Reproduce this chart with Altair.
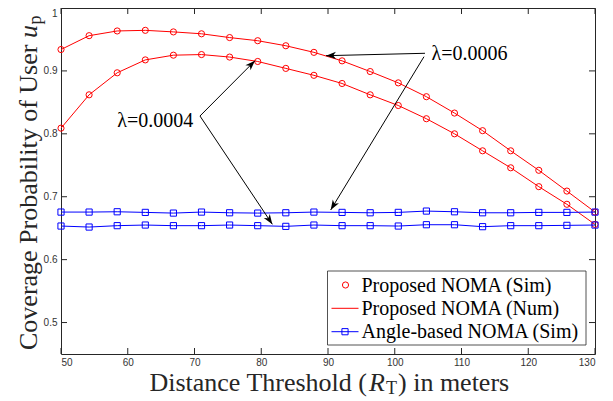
import math
import altair as alt
import pandas as pd

# ---------------- data ----------------
dist = [50, 54.21, 58.42, 62.63, 66.84, 71.05, 75.26, 79.47, 83.68, 87.89,
        92.11, 96.32, 100.53, 104.74, 108.95, 113.16, 117.37, 121.58, 125.79, 130]

prop_l6 = [0.934, 0.956, 0.9635, 0.9645, 0.962, 0.959, 0.953, 0.948, 0.940, 0.9295,
           0.916, 0.899, 0.881, 0.859, 0.833, 0.805, 0.773, 0.742, 0.709, 0.6756]
prop_l4 = [0.809, 0.862, 0.897, 0.9175, 0.925, 0.926, 0.922, 0.915, 0.904, 0.893,
           0.880, 0.862, 0.845, 0.824, 0.800, 0.773, 0.746, 0.716, 0.688, 0.656]
angle_l6 = [0.6756, 0.6756, 0.6761, 0.6751, 0.6740, 0.6756, 0.6745, 0.6740, 0.6745, 0.6756,
            0.6751, 0.6745, 0.6751, 0.6772, 0.6761, 0.6745, 0.6745, 0.6751, 0.6751, 0.6756]
angle_l4 = [0.6534, 0.6518, 0.6540, 0.6550, 0.6540, 0.6540, 0.6550, 0.6540, 0.6529, 0.6550,
            0.6540, 0.6540, 0.6534, 0.6555, 0.6555, 0.6524, 0.6540, 0.6540, 0.6545, 0.6550]

x_ticks = [50, 60, 70, 80, 90, 100, 110, 120, 130]
y_ticks = [0.5, 0.6, 0.7, 0.8, 0.9, 1.0]

legend_labels = ["Proposed NOMA (Sim)", "Proposed NOMA (Num)", "Angle-based NOMA (Sim)"]

lambda_labels = ["\u03bb=0.0004", "\u03bb=0.0006"]
lambda_x = [69.8, 105.5]
lambda_y = [0.8108, 0.9173]
lambda_align = ["right", "left"]

arrow_x1 = [70.82, 70.82, 104.53, 104.38]
arrow_y1 = [0.8283, 0.8283, 0.9280, 0.9226]
arrow_x2 = [79.06, 81.66, 89.70, 90.40]
arrow_y2 = [0.9162, 0.6562, 0.9242, 0.6789]

# ---------------- layout ----------------
W, H = 534, 346
XDOM = [50, 130]
YDOM = [0.45, 1.0]
px_per_x = W / (XDOM[1] - XDOM[0])
px_per_y = H / (YDOM[1] - YDOM[0])

SERIF = "Liberation Serif"
SANS = "Liberation Sans"
RED = "#ff0000"
BLUE = "#0000ff"
FRAME = "#262626"

xscale = alt.Scale(domain=XDOM, nice=False, zero=False)
yscale = alt.Scale(domain=YDOM, nice=False, zero=False)
xaxis = alt.Axis(values=x_ticks, title=None, ticks=False, domain=False, grid=False,
                 labelFont=SANS, labelFontSize=10, labelColor="#333333",
                 labelPadding=3, format="d")
yaxis = alt.Axis(values=y_ticks, title=None, ticks=False, domain=False, grid=False,
                 labelFont=SANS, labelFontSize=10, labelColor="#333333",
                 labelPadding=4, format=".1~f",
                 labelBaseline={"condition": {"test": "datum.value >= 0.99", "value": "top"},
                                "value": "middle"})


def X(f):
    return alt.X(f, type="quantitative", scale=xscale, axis=xaxis)


def Y(f):
    return alt.Y(f, type="quantitative", scale=yscale, axis=yaxis)


prop = pd.DataFrame({"dist": dist * 2, "cov": prop_l6 + prop_l4,
                     "lam": ["0.0006"] * len(dist) + ["0.0004"] * len(dist)})
ang = pd.DataFrame({"dist": dist * 2, "cov": angle_l6 + angle_l4,
                    "lam": ["0.0006"] * len(dist) + ["0.0004"] * len(dist)})

layers = []

# data curves
layers.append(alt.Chart(prop).mark_line(color=RED, strokeWidth=1).encode(
    x=X("dist"), y=Y("cov"), detail="lam:N"))
layers.append(alt.Chart(prop).mark_point(shape="circle", color=RED, size=38,
                                         strokeWidth=1, filled=False, opacity=1).encode(
    x=X("dist"), y=Y("cov")))
layers.append(alt.Chart(ang).mark_line(color=BLUE, strokeWidth=1).encode(
    x=X("dist"), y=Y("cov"), detail="lam:N"))
layers.append(alt.Chart(ang).mark_point(shape="square", color=BLUE, size=38,
                                        strokeWidth=1, filled=False, opacity=1).encode(
    x=X("dist"), y=Y("cov")))

# inward ticks (MATLAB style)
xt = pd.DataFrame({"t": x_ticks})
yt = pd.DataFrame({"t": y_ticks})
TL = 6
layers.append(alt.Chart(xt).mark_rule(color=FRAME, strokeWidth=1).encode(
    x=X("t"), y=alt.value(H), y2=alt.value(H - TL)))
layers.append(alt.Chart(xt).mark_rule(color=FRAME, strokeWidth=1).encode(
    x=X("t"), y=alt.value(0), y2=alt.value(TL)))
layers.append(alt.Chart(yt).mark_rule(color=FRAME, strokeWidth=1).encode(
    y=Y("t"), x=alt.value(0), x2=alt.value(TL)))
layers.append(alt.Chart(yt).mark_rule(color=FRAME, strokeWidth=1).encode(
    y=Y("t"), x=alt.value(W), x2=alt.value(W - TL)))

# annotation arrows
arr = pd.DataFrame({"x1": arrow_x1, "y1": arrow_y1, "x2": arrow_x2, "y2": arrow_y2})
angs = []
for a, b, c, d in zip(arrow_x1, arrow_y1, arrow_x2, arrow_y2):
    dx = (c - a) * px_per_x
    dy = -(d - b) * px_per_y
    angs.append(math.degrees(math.atan2(dx, -dy)) % 360)
arr["ang"] = angs
layers.append(alt.Chart(arr).mark_rule(color="black", strokeWidth=1).encode(
    x=X("x1"), y=Y("y1"), x2=alt.X2("x2"), y2=alt.Y2("y2")))
HEAD = "M0,0 L-0.36,1 L0,0.72 L0.36,1 Z"
layers.append(alt.Chart(arr).mark_point(shape=HEAD, filled=True, color="black",
                                        size=400, opacity=1, strokeWidth=0).encode(
    x=X("x2"), y=Y("y2"), angle=alt.Angle("ang:Q", scale=None)))

lam = pd.DataFrame({"x": lambda_x, "y": lambda_y, "t": lambda_labels})
for i in range(len(lambda_labels)):
    layers.append(alt.Chart(lam.iloc[[i]]).mark_text(
        font=SERIF, fontSize=20, color="black", align=lambda_align[i],
        baseline="alphabetic").encode(x=X("x"), y=Y("y"), text="t:N"))

# legend (drawn by hand, MATLAB style)
one = pd.DataFrame({"k": [0]})
LX0, LX1, LY0, LY1 = 266.5, 525, 263, 337
layers.append(alt.Chart(one).mark_rect(fill="white", stroke=FRAME, strokeWidth=0.8).encode(
    x=alt.value(LX0), x2=alt.value(LX1), y=alt.value(LY0), y2=alt.value(LY1)))
rows_c = [277, 300.3, 323.7]
rows_b = [283.5, 306.5, 330]
layers.append(alt.Chart(one).mark_point(shape="circle", color=RED, size=38, strokeWidth=1,
                                        filled=False, opacity=1).encode(
    x=alt.value(284.5), y=alt.value(rows_c[0])))
layers.append(alt.Chart(one).mark_rule(color=RED, strokeWidth=1).encode(
    x=alt.value(270.5), x2=alt.value(297.5), y=alt.value(rows_c[1])))
layers.append(alt.Chart(one).mark_rule(color=BLUE, strokeWidth=1).encode(
    x=alt.value(270.5), x2=alt.value(297.5), y=alt.value(rows_c[2])))
layers.append(alt.Chart(one).mark_point(shape="square", color=BLUE, size=38, strokeWidth=1,
                                        filled=False, opacity=1).encode(
    x=alt.value(284), y=alt.value(rows_c[2])))
for lab, yb in zip(legend_labels, rows_b):
    layers.append(alt.Chart(one).mark_text(text=lab, font=SERIF, fontSize=20, color="black",
                                           align="left", baseline="alphabetic").encode(
        x=alt.value(300.5), y=alt.value(yb)))

# axis titles composed of pieces (for italics and subscripts)
TFS = 26
TCOL = "#262626"


def piece(text, x, y, size=TFS, style="normal", align="left", angle=0):
    return alt.Chart(one).mark_text(text=text, font=SERIF, fontSize=size, fontStyle=style,
                                    color=TCOL, align=align, baseline="alphabetic",
                                    angle=angle).encode(x=alt.value(x), y=alt.value(y))


layers.append(piece("Distance Threshold (", 306, 383, align="right"))
layers.append(piece("R", 308, 383, style="italic"))
layers.append(piece("T", 325, 386, size=18))
layers.append(piece(") in meters", 337, 383))

layers.append(piece("Coverage Probability of User", -24, 342, angle=270))
layers.append(piece("u", -24, 30, style="italic", angle=270))
layers.append(piece("p", -20, 16.5, size=18, angle=270))

chart = alt.layer(*layers).properties(
    width=W, height=H,
    autosize=alt.AutoSizeParams(type="none"),
    padding={"left": 53, "top": 0, "right": 10, "bottom": 46},
    background="white",
).configure_view(stroke=FRAME, strokeWidth=1)

chart.save("out.html", embed_options={"renderer": "svg", "actions": False})
